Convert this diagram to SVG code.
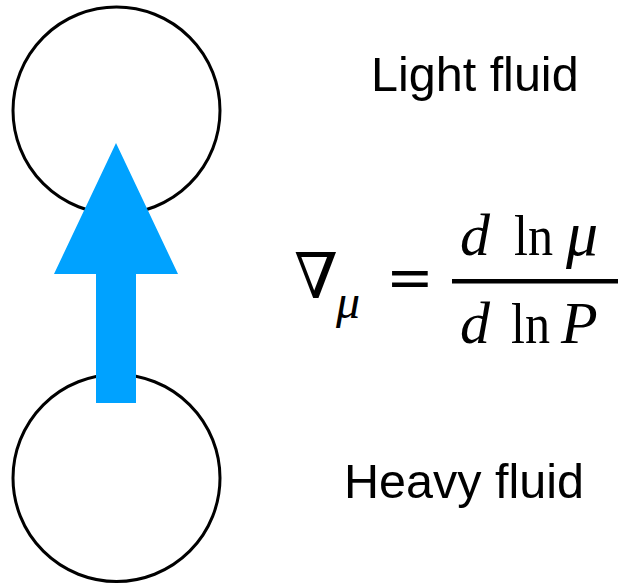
<svg xmlns="http://www.w3.org/2000/svg" width="620" height="583" viewBox="0 0 620 583">
<style>
.fluid{fill:#fff;stroke:#000;stroke-width:3}
.lbl{font-family:"Liberation Sans",Arial,sans-serif;font-size:48.5px;fill:#000}
.m{font-family:"Liberation Serif","Times New Roman",serif;fill:#000}
.s{font-family:"DejaVu Serif","Liberation Serif",serif;fill:#000}
.i{font-style:italic}
</style>
<rect width="620" height="583" fill="#fff"/>
<g id="light-fluid">
<circle class="fluid" cx="116.5" cy="110.5" r="103.5"/>
<text class="lbl" x="371" y="91">Light fluid</text>
</g>
<g id="heavy-fluid">
<circle class="fluid" cx="116.5" cy="478" r="103.5"/>
<text class="lbl" x="344" y="498">Heavy fluid</text>
</g>
<g id="connectors">
<polygon fill="#00A2FF" points="116,143 178,274 136,274 136,403 96,403 96,274 54,274"/>
</g>
<g id="formula">
<text class="s" x="294" y="298" style="font-size:63px">∇</text>
<text class="m i" x="336" y="318" style="font-size:48px">μ</text>
<text class="s" x="386" y="297" style="font-size:57px">=</text>
<text class="m i" x="460" y="255" style="font-size:60px">d</text>
<text class="m" x="514" y="255" style="font-size:56px" textLength="39" lengthAdjust="spacingAndGlyphs">ln</text>
<text class="m i" x="566" y="255" style="font-size:64px">μ</text>
<rect x="452" y="279" width="166" height="4.5" fill="#000"/>
<text class="m i" x="460" y="343" style="font-size:60px">d</text>
<text class="m" x="511" y="343" style="font-size:56px" textLength="39" lengthAdjust="spacingAndGlyphs">ln</text>
<text class="m i" x="561" y="343" style="font-size:60px">P</text>
</g>
</svg>
